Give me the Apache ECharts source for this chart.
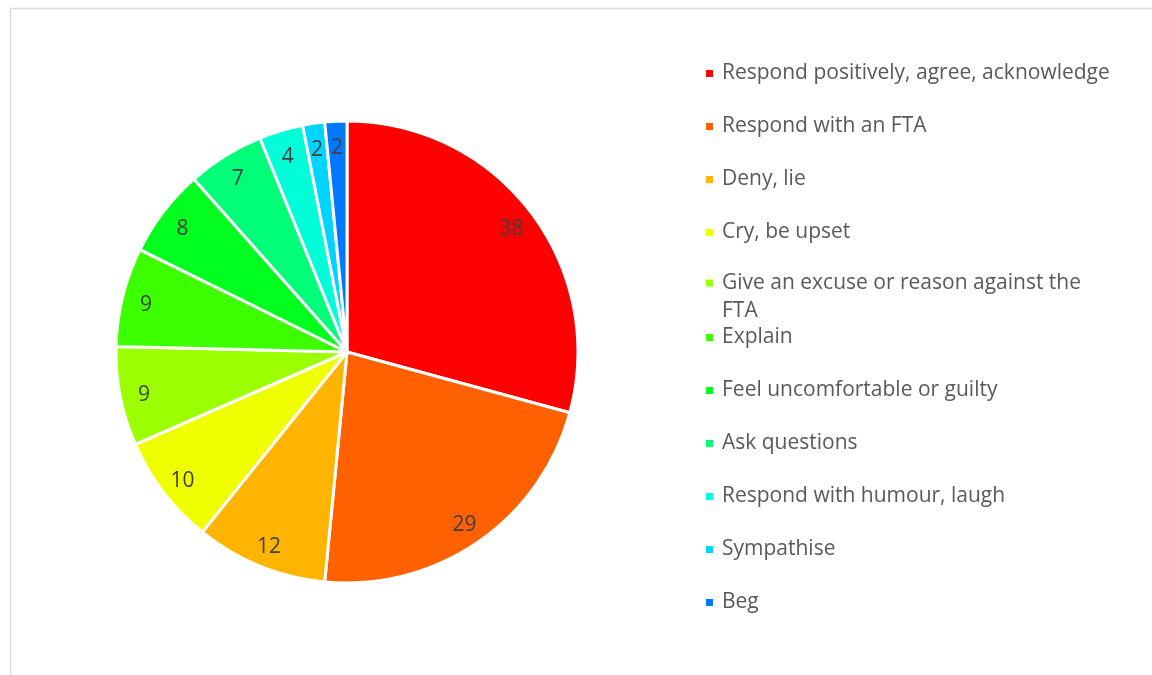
<!DOCTYPE html>
<html>
<head>
<meta charset="utf-8">
<script src="https://cdn.jsdelivr.net/npm/echarts@6/dist/echarts.min.js"></script>
<style>
  html, body { margin: 0; padding: 0; background: #fff; }
  #chart { width: 1152px; height: 675px; }
</style>
</head>
<body>
<div id="chart"></div>
<script>
// Responses to a face-threatening act (FTA), counts per category
const categories = [
  'Respond positively, agree, acknowledge',
  'Respond with an FTA',
  'Deny, lie',
  'Cry, be upset',
  'Give an excuse or reason against the FTA',
  'Explain',
  'Feel uncomfortable or guilty',
  'Ask questions',
  'Respond with humour, laugh',
  'Sympathise',
  'Beg'
];
const counts = [38, 29, 12, 10, 9, 9, 8, 7, 4, 2, 2];
const colors = [
  '#FF0000', '#FF6000', '#FFB400', '#F0FF00', '#9CFF00', '#3CFF00',
  '#00FF1E', '#00FF78', '#00FFD8', '#00D4FF', '#0078FF'
];

const FONT = '"Open Sans", "Liberation Sans", sans-serif';
const CENTER = [347, 352];
const R = 231;

const pieData = categories.map((name, i) => ({
  name: name,
  value: counts[i],
  itemStyle: { color: colors[i] }
}));

const legendText = {
  fontFamily: FONT,
  fontSize: 21,
  color: '#595959',
  lineHeight: 20,
  padding: [0, 0, 0, 3]
};

const legendBase = {
  orient: 'vertical',
  left: 699,
  icon: 'rect',
  itemWidth: 9,
  itemHeight: 9,
  itemGap: 32,
  selectedMode: false,
  textStyle: legendText
};

// The long entry wraps onto a second line; the marker stays beside the first line.
function wrapLongEntry(name) {
  const head = name.replace(/ FTA$/, '');
  return '{pad| }\n{a|' + head + '}\n{b|FTA}';
}

const chart = echarts.init(document.getElementById('chart'), null, { renderer: 'canvas' });
chart.setOption({
  backgroundColor: '#ffffff',
  animation: false,
  graphic: [{
    type: 'rect',
    shape: { x: 10.5, y: 8.5, width: 1400, height: 900 },
    style: { fill: 'none', stroke: '#d9d9d9', lineWidth: 1.5 },
    silent: true
  }],
  legend: [
    Object.assign({}, legendBase, { top: 58, data: categories.slice(0, 4) }),
    Object.assign({}, legendBase, {
      top: 232,
      data: [categories[4]],
      formatter: wrapLongEntry,
      textStyle: Object.assign({}, legendText, {
        rich: {
          pad: { lineHeight: 36, fontSize: 21, fontFamily: FONT },
          a: { lineHeight: 20, fontSize: 21, fontFamily: FONT, color: '#595959' },
          b: { lineHeight: 36, fontSize: 21, fontFamily: FONT, color: '#595959' }
        }
      })
    }),
    Object.assign({}, legendBase, { top: 322, data: categories.slice(5) })
  ],
  series: [
    {
      // the visible pie
      type: 'pie',
      center: CENTER,
      radius: [0, R],
      startAngle: 90,
      clockwise: true,
      silent: true,
      label: { show: false },
      labelLine: { show: false },
      itemStyle: { borderColor: '#ffffff', borderWidth: 3 },
      emphasis: { disabled: true },
      data: pieData
    },
    {
      // transparent ring that carries the value labels near the outer edge
      type: 'pie',
      center: CENTER,
      radius: [R * 0.766, R],
      startAngle: 90,
      clockwise: true,
      silent: true,
      itemStyle: { color: 'rgba(0,0,0,0)', borderWidth: 0 },
      emphasis: { disabled: true },
      label: {
        show: true,
        position: 'inside',
        formatter: '{c}',
        fontFamily: FONT,
        fontSize: 21,
        color: '#404040',
        offset: [0, 3]
      },
      labelLine: { show: false },
      data: categories.map((name, i) => ({ name: name, value: counts[i] }))
    }
  ]
});
</script>
</body>
</html>
